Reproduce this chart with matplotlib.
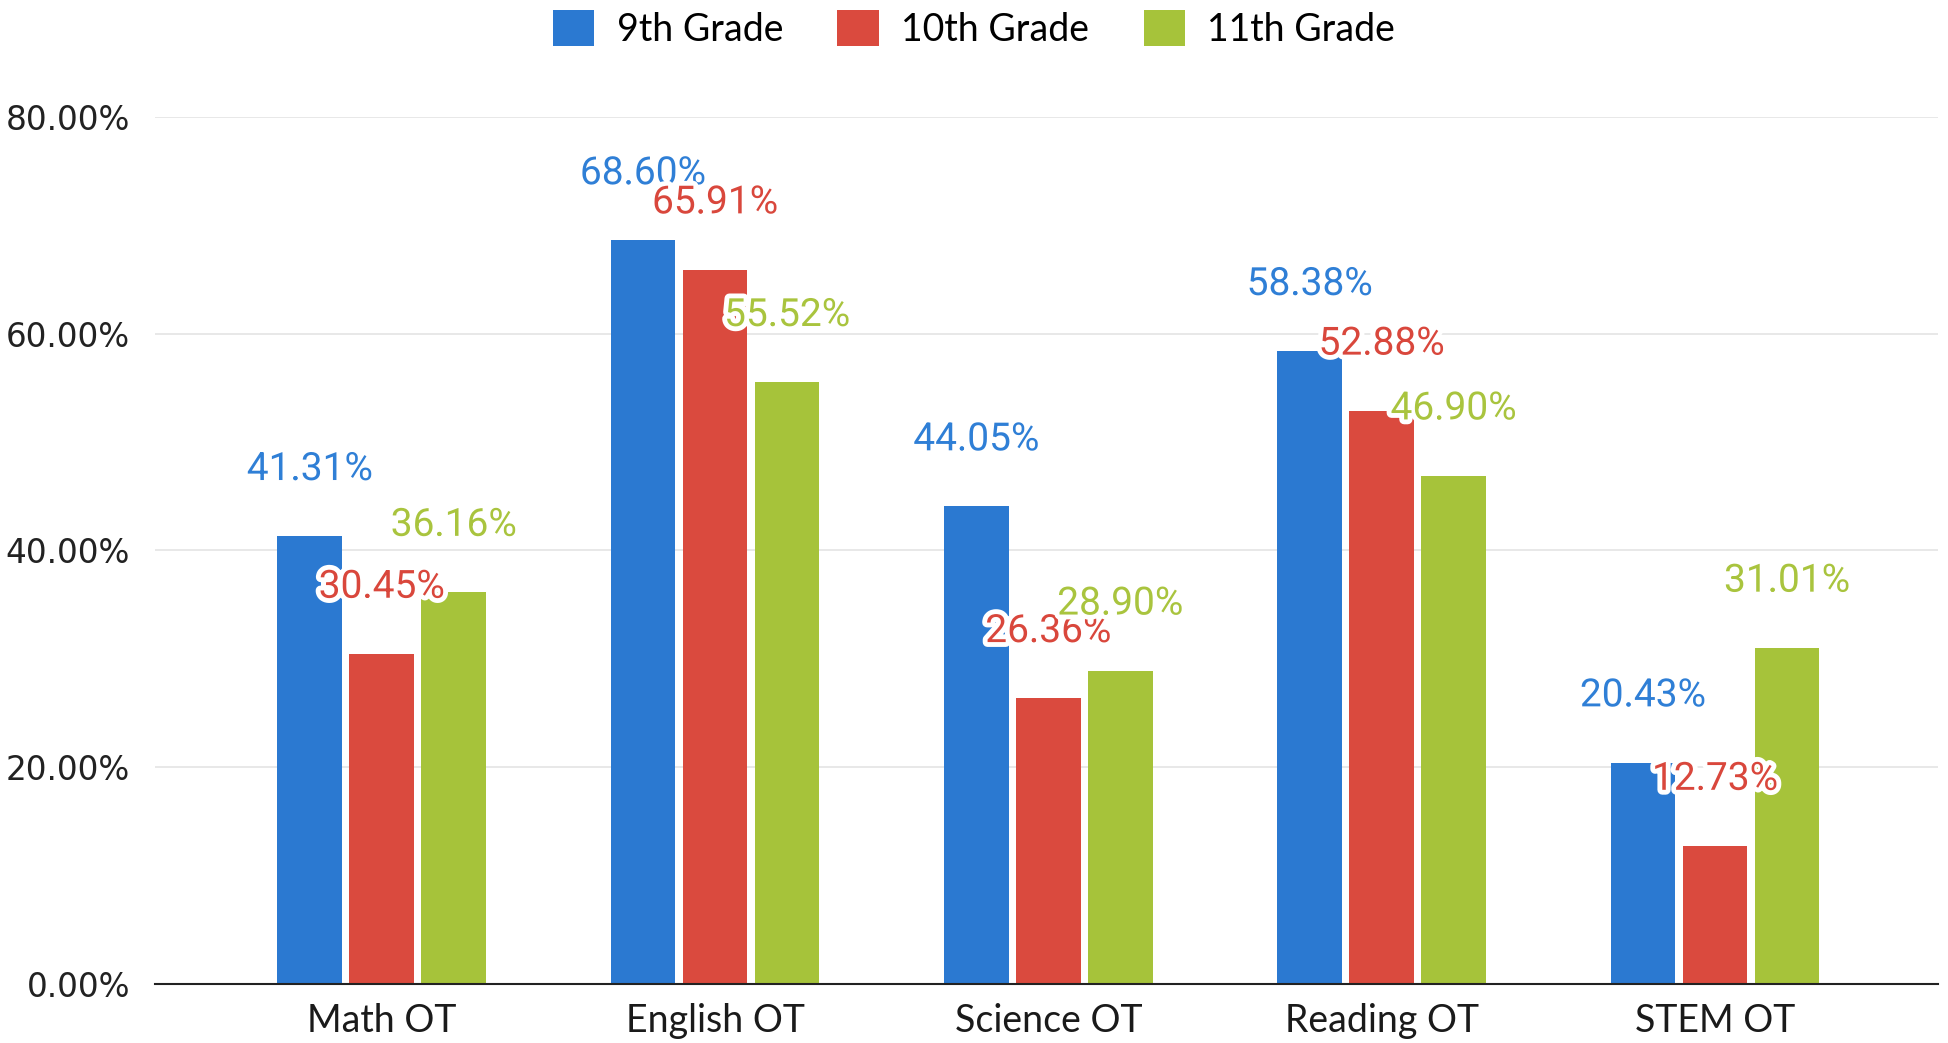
import matplotlib
matplotlib.use("Agg")
import matplotlib.pyplot as plt
import matplotlib.patheffects as pe
from matplotlib.patches import Patch
import numpy as np

categories = ["Math OT", "English OT", "Science OT", "Reading OT", "STEM OT"]
series_names = ["9th Grade", "10th Grade", "11th Grade"]
grade9 = [41.31, 68.60, 44.05, 58.38, 20.43]
grade10 = [30.45, 65.91, 26.36, 52.88, 12.73]
grade11 = [36.16, 55.52, 28.90, 46.90, 31.01]
yticks = [0, 20, 40, 60, 80]
ytick_labels = ["0.00%", "20.00%", "40.00%", "60.00%", "80.00%"]

bar_colors = ["#2b79d1", "#da4a3e", "#a6c33a"]
label_colors = ["#2f7fd6", "#d9473c", "#a9c43e"]

fig = plt.figure(figsize=(19.48, 10.43), dpi=100)
ax = fig.add_axes([0.0796, 0.0566, 0.9154, 0.8314])

x = np.arange(len(categories))
width = 0.194
step = 0.216
series = [grade9, grade10, grade11]
for i, vals in enumerate(series):
    xs = x + (i - 1) * step
    ax.bar(xs, vals, width=width, color=bar_colors[i], zorder=2)
    for xi, v in zip(xs, vals):
        ax.annotate(f"{v:.2f}%", (xi, v), xytext=(0, 48), textcoords="offset points",
                    ha="center", va="center", fontsize=28, color=label_colors[i],
                    family="Roboto", zorder=5,
                    path_effects=[pe.withStroke(linewidth=7, foreground="white")])

ax.set_xlim(-0.68, 4.67)
ax.set_ylim(0, 80)
ax.set_yticks(yticks)
ax.set_yticklabels(ytick_labels, fontsize=23.5, family="DejaVu Sans", color="#222222")
ax.set_xticks(x)
ax.set_xticklabels(categories, fontsize=27, family="Lato", color="#1a1a1a")
ax.tick_params(axis="y", length=0, pad=18)
ax.tick_params(axis="x", length=0, pad=14)
ax.grid(axis="y", color="#e4e4e4", linewidth=1.2, zorder=0)
ax.set_axisbelow(True)
for s in ["top", "right", "left"]:
    ax.spines[s].set_visible(False)
ax.spines["bottom"].set_color("#222222")
ax.spines["bottom"].set_linewidth(1.5)
ax.spines["bottom"].set_zorder(3)

handles = [Patch(facecolor=c, edgecolor="none") for c in bar_colors]
fig.legend(handles, series_names, loc="center", bbox_to_anchor=(0.5, 0.972), ncol=3,
           frameon=False, prop={"family": "Lato", "size": 27},
           handlelength=1.1, handleheight=1.1, handletextpad=0.6, columnspacing=1.45)

fig.savefig("out.png", dpi=100, facecolor="white")
